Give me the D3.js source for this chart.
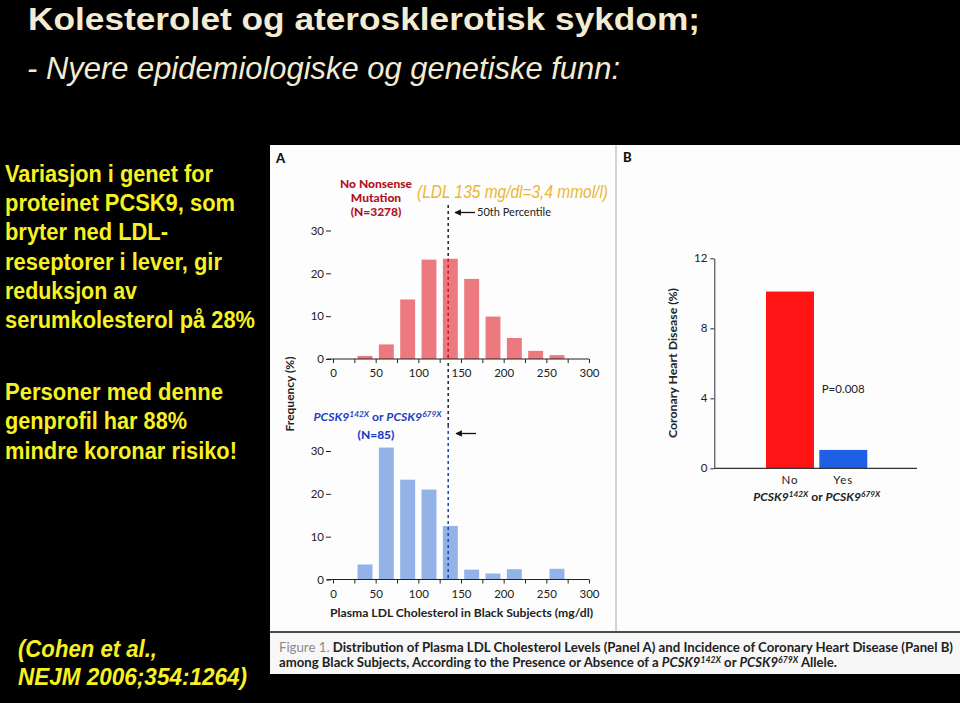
<!DOCTYPE html>
<html><head><meta charset="utf-8">
<script src="https://cdn.jsdelivr.net/npm/d3@7"></script>
<style>
html,body{margin:0;padding:0;background:#000;}
svg{display:block;}
</style></head>
<body>
<svg id="chart" width="960" height="703"></svg>
<script>
// ---------- data ----------
const binStarts = [0, 25, 50, 75, 100, 125, 150, 175, 200, 225, 250, 275];
const noMutationPct = [0, 0.7, 3.4, 13.9, 23.2, 23.4, 18.7, 9.9, 4.9, 1.9, 0.9, 0];
const mutationPct   = [0, 3.5, 30.8, 23.3, 21.0, 12.5, 2.3, 1.4, 2.4, 0, 2.5, 0];
const binWidth = 25;
const medianLDL = 135;
const xTickValues = [0, 25, 50, 75, 100, 125, 150, 175, 200, 225, 250, 275, 300];
const histYTicks = [0, 10, 20, 30];
const chdGroups = ["No", "Yes"];
const chdPct = [10.1, 1.05];
const chdYTicks = [0, 4, 8, 12];
const titleLines = ["Kolesterolet og aterosklerotisk sykdom;", "- Nyere epidemiologiske og genetiske funn:"];
const bodyLines1 = ["Variasjon i genet for", "proteinet PCSK9, som", "bryter ned LDL-", "reseptorer i lever, gir", "reduksjon av", "serumkolesterol på 28%"];
const bodyLines2 = ["Personer med denne", "genprofil har 88%", "mindre koronar risiko!"];
const refLines = ["(Cohen et al.,", "NEJM 2006;354:1264)"];

// ---------- layout ----------
const svg = d3.select("#chart");
svg.append("rect").attr("width", 960).attr("height", 703).attr("fill", "#000");

const sans = "'Liberation Sans',Arial,sans-serif";
const figFont = "Lato,'Open Sans',sans-serif";

// titles
svg.append("text").attr("x", 28).attr("y", 30).attr("fill", "#f3ecd2")
  .attr("font-family", sans).attr("font-weight", "bold").attr("font-size", 32)
  .attr("textLength", 672).attr("lengthAdjust", "spacingAndGlyphs").text(titleLines[0]);
svg.append("text").attr("x", 27).attr("y", 79).attr("fill", "#f3ecd2")
  .attr("font-family", sans).attr("font-style", "italic").attr("font-size", 32)
  .attr("textLength", 593).attr("lengthAdjust", "spacingAndGlyphs").text(titleLines[1]);

// left body text
const body1Widths = [208, 230, 163, 217, 132, 250];
const body2Widths = [218, 182, 232];
bodyLines1.forEach((t, i) => {
  svg.append("text").attr("x", 5).attr("y", 181.7 + i * 29.3).attr("fill", "#f6f122")
    .attr("font-family", sans).attr("font-weight", "bold").attr("font-size", 23.5)
    .attr("textLength", body1Widths[i]).attr("lengthAdjust", "spacingAndGlyphs").text(t);
});
bodyLines2.forEach((t, i) => {
  svg.append("text").attr("x", 5).attr("y", 400 + i * 29.3).attr("fill", "#f6f122")
    .attr("font-family", sans).attr("font-weight", "bold").attr("font-size", 23.5)
    .attr("textLength", body2Widths[i]).attr("lengthAdjust", "spacingAndGlyphs").text(t);
});
const refWidths = [139, 229];
refLines.forEach((t, i) => {
  svg.append("text").attr("x", 18).attr("y", 657 + i * 28).attr("fill", "#f6f122")
    .attr("font-family", sans).attr("font-weight", "bold").attr("font-style", "italic").attr("font-size", 23.5)
    .attr("textLength", refWidths[i]).attr("lengthAdjust", "spacingAndGlyphs").text(t);
});

// figure background
svg.append("rect").attr("x", 270).attr("y", 145).attr("width", 690).attr("height", 486).attr("fill", "#fdfdfd");
svg.append("line").attr("x1", 270).attr("x2", 960).attr("y1", 632).attr("y2", 632).attr("stroke", "#666").attr("stroke-width", 1.5);
svg.append("rect").attr("x", 270).attr("y", 633).attr("width", 690).attr("height", 41).attr("fill", "#f7f7f7");
svg.append("line").attr("x1", 616).attr("x2", 616).attr("y1", 145).attr("y2", 631).attr("stroke", "#aaa").attr("stroke-width", 1);

// panel letters
svg.append("text").attr("x", 276).attr("y", 163).attr("font-family", figFont).attr("font-weight", "900").attr("font-size", 13).attr("fill", "#111").text("A");
svg.append("text").attr("x", 623).attr("y", 162).attr("font-family", figFont).attr("font-weight", "900").attr("font-size", 13).attr("fill", "#111").text("B");

// helper for PCSK9 superscript label
function pcskLabel(g, x, y, size, fill, anchor, width) {
  const t = g.append("text").attr("x", x).attr("y", y).attr("fill", fill)
    .attr("font-family", figFont).attr("font-weight", "bold").attr("font-style", "italic")
    .attr("font-size", size).attr("text-anchor", anchor);
  if (width) t.attr("textLength", width).attr("lengthAdjust", "spacingAndGlyphs");
  t.append("tspan").text("PCSK9");
  t.append("tspan").attr("dy", -size * 0.35).attr("font-size", size * 0.68).text("142X");
  t.append("tspan").attr("dy", size * 0.35).attr("font-style", "normal").text(" or ");
  t.append("tspan").text("PCSK9");
  t.append("tspan").attr("dy", -size * 0.35).attr("font-size", size * 0.68).text("679X");
  return t;
}

// ---------- Panel A histograms ----------
const x = d3.scaleLinear().domain([0, 300]).range([333, 589]);
const yTop = d3.scaleLinear().domain([0, 30]).range([359, 230.5]);
const yBot = d3.scaleLinear().domain([0, 30]).range([579.5, 451]);
const gap = 3.75;

function drawHist(values, y, fill) {
  const g = svg.append("g");
  const data = binStarts.map((b, i) => ({ b, v: values[i] })).filter(d => d.v > 0);
  g.selectAll("rect").data(data).join("rect")
    .attr("x", d => x(d.b + gap)).attr("width", d => x(d.b + binWidth - gap) - x(d.b + gap))
    .attr("y", d => y(d.v)).attr("height", d => y(0) - y(d.v))
    .attr("fill", fill);
  // x axis
  const xa = g.append("g").attr("transform", `translate(0,${y(0)})`)
    .call(d3.axisBottom(x).tickValues(xTickValues).tickSize(4).tickPadding(6)
      .tickFormat(d => d % 50 === 0 ? d : ""));
  xa.select(".domain").remove();
  xa.append("line").attr("x1", 327).attr("x2", x(300)).attr("stroke", "#222").attr("stroke-width", 1.2);
  xa.selectAll("text").attr("font-family", figFont).attr("font-size", 11.5).attr("fill", "#222");
  xa.selectAll(".tick line").attr("stroke", "#222");
  // y axis
  const ya = g.append("g").attr("transform", "translate(331,0)")
    .call(d3.axisLeft(y).tickValues(histYTicks).tickSize(5).tickPadding(2));
  ya.select(".domain").remove();
  ya.selectAll("text").attr("font-family", figFont).attr("font-size", 11.5).attr("fill", "#222");
  ya.selectAll(".tick line").attr("stroke", "#222");
  return g;
}
drawHist(noMutationPct, yTop, "#ec7880");
drawHist(mutationPct, yBot, "#92b2e8");

// median dashed line
const xm = x(medianLDL);
const medBinIdx = binStarts.findIndex(b => medianLDL >= b && medianLDL < b + binWidth);
svg.append("line").attr("x1", xm).attr("x2", xm).attr("y1", 205).attr("y2", yTop(noMutationPct[medBinIdx]))
  .attr("stroke", "#222").attr("stroke-width", 1.5).attr("stroke-dasharray", "3,3");
svg.append("line").attr("x1", xm).attr("x2", xm).attr("y1", yTop(noMutationPct[medBinIdx])).attr("y2", yTop(0))
  .attr("stroke", "#c4101c").attr("stroke-width", 1.5).attr("stroke-dasharray", "3,3");
svg.append("line").attr("x1", xm).attr("x2", xm).attr("y1", yTop(0) + 4).attr("y2", 425)
  .attr("stroke", "#222").attr("stroke-width", 1.5).attr("stroke-dasharray", "3,3");
svg.append("line").attr("x1", xm).attr("x2", xm).attr("y1", 425).attr("y2", yBot(0))
  .attr("stroke", "#1a3fc0").attr("stroke-width", 1.5).attr("stroke-dasharray", "3,3");

// arrows (pointing left toward the median line)
const defs = svg.append("defs");
defs.append("marker").attr("id", "arr").attr("viewBox", "0 0 10 10").attr("refX", 9).attr("refY", 5)
  .attr("markerWidth", 6).attr("markerHeight", 5).attr("orient", "auto")
  .append("path").attr("d", "M10,5 L0,0 L0,10 Z").attr("fill", "#111");
svg.append("line").attr("x1", 475).attr("x2", 455).attr("y1", 212.5).attr("y2", 212.5)
  .attr("stroke", "#111").attr("stroke-width", 1.3).attr("marker-end", "url(#arr)");
svg.append("line").attr("x1", 476).attr("x2", 456).attr("y1", 433.5).attr("y2", 433.5)
  .attr("stroke", "#111").attr("stroke-width", 1.3).attr("marker-end", "url(#arr)");
svg.append("text").attr("x", 477).attr("y", 216).attr("font-family", figFont).attr("font-size", 11)
  .attr("fill", "#222").attr("textLength", 74).attr("lengthAdjust", "spacingAndGlyphs").text("50th Percentile");

// group titles
const redTitle = ["No Nonsense", "Mutation", "(N=3278)"];
redTitle.forEach((t, i) => {
  svg.append("text").attr("x", 376).attr("y", 187.5 + i * 14.2).attr("text-anchor", "middle")
    .attr("font-family", figFont).attr("font-weight", "900").attr("font-size", 12).attr("fill", "#b3121f").text(t);
});
svg.append("text").attr("x", 417).attr("y", 198).attr("font-family", sans).attr("font-style", "italic")
  .attr("font-size", 17.5).attr("fill", "#e9b733").attr("textLength", 191).attr("lengthAdjust", "spacingAndGlyphs")
  .text("(LDL 135 mg/dl=3,4 mmol/l)");
pcskLabel(svg, 377.5, 421, 12, "#1d3fc4", "middle", 128);
svg.append("text").attr("x", 376).attr("y", 439).attr("text-anchor", "middle")
  .attr("font-family", figFont).attr("font-weight", "900").attr("font-size", 12).attr("fill", "#1d3fc4").text("(N=85)");

// axis titles panel A
svg.append("text").attr("transform", "translate(294,394) rotate(-90)").attr("text-anchor", "middle")
  .attr("font-family", figFont).attr("font-weight", "bold").attr("font-size", 12).attr("fill", "#222")
  .text("Frequency (%)");
svg.append("text").attr("x", 461.5).attr("y", 617).attr("text-anchor", "middle")
  .attr("font-family", figFont).attr("font-weight", "bold").attr("font-size", 12).attr("fill", "#222")
  .attr("textLength", 263).attr("lengthAdjust", "spacingAndGlyphs")
  .text("Plasma LDL Cholesterol in Black Subjects (mg/dl)");

// ---------- Panel B ----------
const xB = d3.scaleBand().domain(chdGroups).range([766, 867.3]).paddingInner(0.1).paddingOuter(0);
const yB = d3.scaleLinear().domain([0, 12]).range([468.3, 258.3]);
const chdColors = ["#fe1414", "#1e5fe6"];
svg.append("g").selectAll("rect").data(chdGroups.map((g, i) => ({ g, v: chdPct[i], c: chdColors[i] }))).join("rect")
  .attr("x", d => xB(d.g)).attr("width", xB.bandwidth())
  .attr("y", d => yB(d.v)).attr("height", d => yB(0) - yB(d.v)).attr("fill", d => d.c);
const yaB = svg.append("g").attr("transform", "translate(714.3,0)")
  .call(d3.axisLeft(yB).tickValues(chdYTicks).tickSize(4).tickSizeOuter(0).tickPadding(3));
yaB.selectAll("text").attr("font-family", figFont).attr("font-size", 11.5).attr("fill", "#222");
yaB.selectAll(".domain, .tick line").attr("stroke", "#333");
const xaB = svg.append("g").attr("transform", `translate(0,${yB(0)})`)
  .call(d3.axisBottom(xB).tickSize(0).tickPadding(8));
xaB.select(".domain").remove();
xaB.append("line").attr("x1", 714.3).attr("x2", 917).attr("stroke", "#333").attr("stroke-width", 1.2);
xaB.selectAll("text").attr("font-family", figFont).attr("font-size", 11.5).attr("fill", "#222").attr("letter-spacing", 1);
svg.append("text").attr("x", 821.7).attr("y", 392.5).attr("font-family", figFont).attr("font-size", 11.5)
  .attr("fill", "#222").text("P=0.008");
svg.append("text").attr("transform", "translate(677,363) rotate(-90)").attr("text-anchor", "middle")
  .attr("font-family", figFont).attr("font-weight", "bold").attr("font-size", 12).attr("fill", "#222")
  .attr("textLength", 150).attr("lengthAdjust", "spacingAndGlyphs")
  .text("Coronary Heart Disease (%)");
pcskLabel(svg, 816.7, 501, 11.5, "#222", "middle", 127);

// ---------- Caption ----------
const cap1 = svg.append("text").attr("x", 279).attr("y", 652).attr("font-family", figFont).attr("font-size", 13)
  .attr("textLength", 674).attr("lengthAdjust", "spacingAndGlyphs");
cap1.append("tspan").attr("fill", "#8a8a8a").text("Figure 1.");
cap1.append("tspan").attr("fill", "#222").attr("font-weight", "bold")
  .text(" Distribution of Plasma LDL Cholesterol Levels (Panel A) and Incidence of Coronary Heart Disease (Panel B)");
const cap2 = svg.append("text").attr("x", 279).attr("y", 667).attr("font-family", figFont).attr("font-size", 13)
  .attr("fill", "#222").attr("font-weight", "bold")
  .attr("textLength", 558).attr("lengthAdjust", "spacingAndGlyphs");
cap2.append("tspan").text("among Black Subjects, According to the Presence or Absence of a ");
cap2.append("tspan").attr("font-style", "italic").text("PCSK9");
cap2.append("tspan").attr("dy", -4.5).attr("font-size", 8.5).attr("font-style", "italic").text("142X");
cap2.append("tspan").attr("dy", 4.5).text(" or ");
cap2.append("tspan").attr("font-style", "italic").text("PCSK9");
cap2.append("tspan").attr("dy", -4.5).attr("font-size", 8.5).attr("font-style", "italic").text("679X");
cap2.append("tspan").attr("dy", 4.5).text(" Allele.");
</script>
</body></html>
